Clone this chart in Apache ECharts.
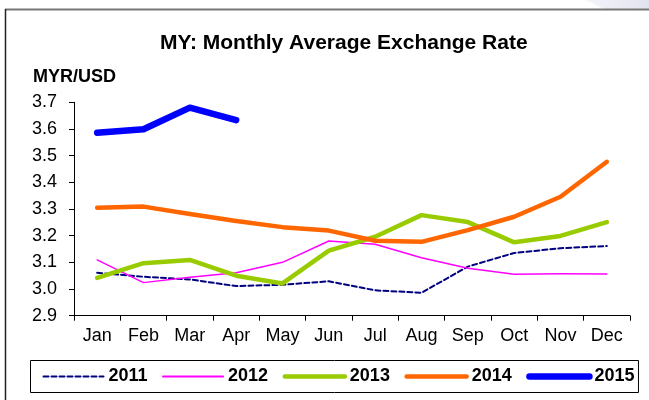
<!DOCTYPE html>
<html>
<head>
<meta charset="utf-8">
<script src="https://cdn.jsdelivr.net/npm/echarts@6/dist/echarts.min.js"></script>
<style>
  html, body { margin: 0; padding: 0; background: #fff; }
  #chart { width: 649px; height: 400px; }
</style>
</head>
<body>
<div id="chart"></div>
<script>
// Monthly average MYR/USD exchange rate, 2011-2015
var months = ['Jan', 'Feb', 'Mar', 'Apr', 'May', 'Jun', 'Jul', 'Aug', 'Sep', 'Oct', 'Nov', 'Dec'];
var rate2011 = [3.061, 3.046, 3.036, 3.011, 3.016, 3.029, 2.995, 2.986, 3.084, 3.135, 3.153, 3.161];
var rate2012 = [3.109, 3.024, 3.044, 3.061, 3.100, 3.180, 3.168, 3.117, 3.078, 3.055, 3.057, 3.056];
var rate2013 = [3.042, 3.097, 3.109, 3.050, 3.021, 3.144, 3.196, 3.277, 3.251, 3.175, 3.199, 3.251];
var rate2014 = [3.305, 3.309, 3.281, 3.255, 3.232, 3.219, 3.181, 3.177, 3.221, 3.271, 3.346, 3.477];
var rate2015 = [3.586, 3.599, 3.680, 3.633];
var yTicks = { min: 2.9, max: 3.7, step: 0.1 };

var font = 'Liberation Sans, Arial, sans-serif';

var seriesDefs = [
  { name: '2011', data: rate2011, color: '#000080', width: 2, type: [5, 3] },
  { name: '2012', data: rate2012, color: '#ff00ff', width: 1.5, type: 'solid' },
  { name: '2013', data: rate2013, color: '#99cc00', width: 4.5, type: 'solid' },
  { name: '2014', data: rate2014, color: '#ff6600', width: 4.5, type: 'solid' },
  { name: '2015', data: rate2015, color: '#0000ff', width: 6.5, type: 'solid' }
];

var series = seriesDefs.map(function (d) {
  return {
    name: d.name,
    type: 'line',
    data: d.data,
    symbol: 'none',
    lineStyle: { color: d.color, width: d.width, type: d.type, cap: 'round', join: 'round' },
    itemStyle: { color: d.color }
  };
});

var legendItems = seriesDefs.map(function (d) {
  return {
    name: d.name,
    itemStyle: { opacity: 0 },
    lineStyle: { color: d.color, width: Math.max(d.width, 2), type: d.type, cap: 'round' }
  };
});

var chart = echarts.init(document.getElementById('chart'), null, { renderer: 'canvas' });
chart.setOption({
  animation: false,
  backgroundColor: '#fff',
  title: [
    {
      text: 'MY: Monthly Average Exchange Rate',
      left: 155, top: 28,
      textStyle: { fontFamily: font, fontSize: 21, fontWeight: 'bold', color: '#000' }
    },
    {
      text: 'MYR/USD',
      left: 28, top: 63,
      textStyle: { fontFamily: font, fontSize: 18, fontWeight: 'bold', color: '#000' }
    }
  ],
  graphic: [
    {
      type: 'polygon', silent: true,
      shape: { points: [[586, 0], [649, 0], [649, 9], [604, 9]] },
      style: { fill: new echarts.graphic.LinearGradient(0, 0, 1, 0, [
        { offset: 0, color: '#f4f4fa' }, { offset: 1, color: '#e3e3f0' }]) }
    },
    {
      type: 'line', silent: true,
      shape: { x1: 5, y1: 9.5, x2: 649, y2: 9.5 },
      style: { stroke: '#777', lineWidth: 2 }
    },
    {
      type: 'line', silent: true,
      shape: { x1: 5.5, y1: 9, x2: 5.5, y2: 400 },
      style: { stroke: '#222', lineWidth: 1.5 }
    }
  ],
  legend: {
    left: 30.5, top: 360.5,
    padding: [7, 4, 7, 12],
    borderColor: '#000', borderWidth: 1,
    itemWidth: 60, itemHeight: 14, itemGap: 14.5,
    textStyle: { fontFamily: font, fontSize: 18, fontWeight: 'bold', color: '#000' },
    data: legendItems
  },
  grid: { left: 74, right: 19, top: 102.3, bottom: 84.3, containLabel: false },
  xAxis: {
    type: 'category',
    data: months,
    boundaryGap: true,
    axisLine: { lineStyle: { color: '#000', width: 1 } },
    axisTick: { show: true, length: 5, lineStyle: { color: '#000' } },
    axisLabel: { fontFamily: font, fontSize: 18, color: '#000', margin: 11 }
  },
  yAxis: {
    type: 'value',
    min: yTicks.min, max: yTicks.max, interval: yTicks.step,
    axisLine: { show: true, lineStyle: { color: '#000', width: 1 } },
    axisTick: { show: true, length: 5, lineStyle: { color: '#000' } },
    splitLine: { show: false },
    axisLabel: {
      fontFamily: font, fontSize: 18, color: '#000', margin: 17,
      formatter: function (v) { return v.toFixed(1); }
    }
  },
  series: series
});
</script>
</body>
</html>
